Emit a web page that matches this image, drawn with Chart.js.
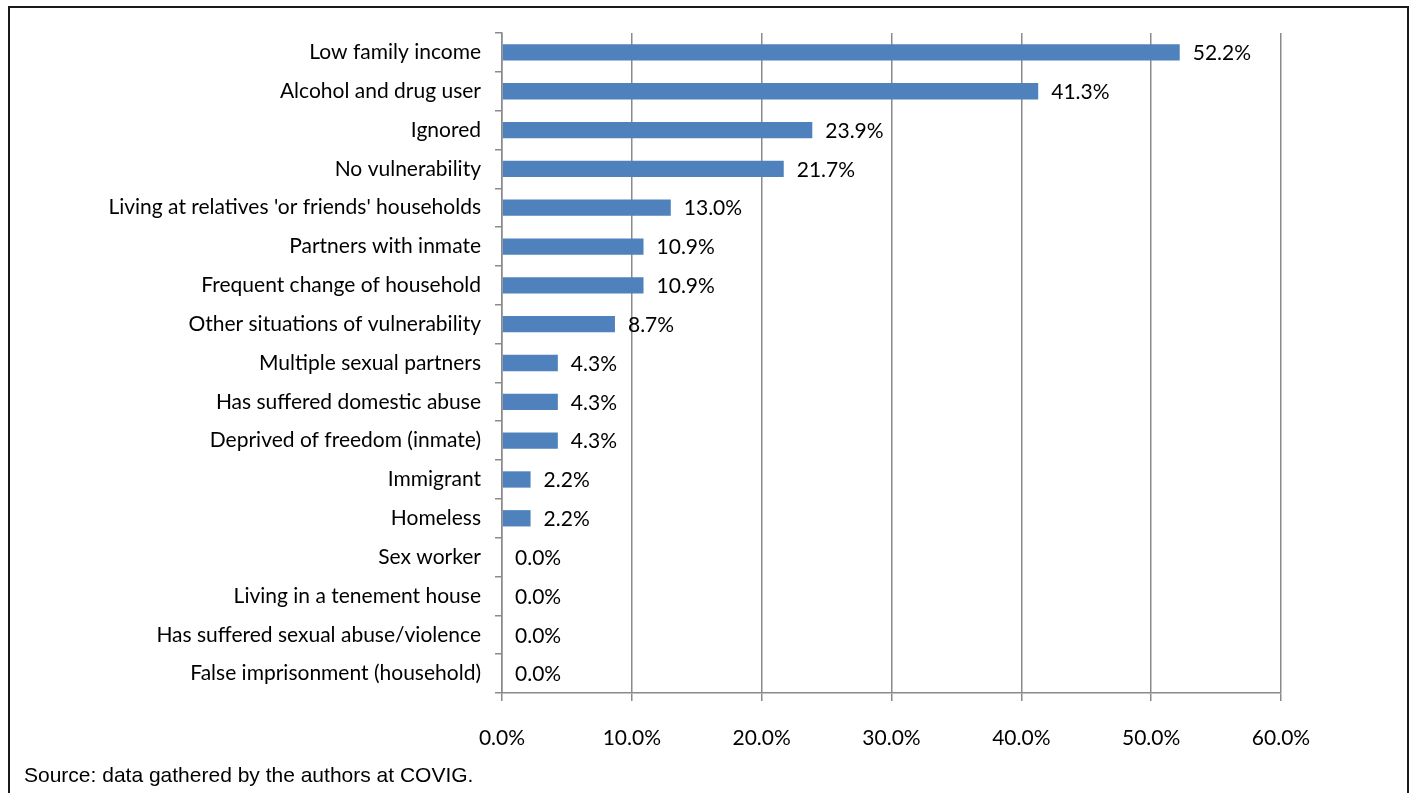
<!DOCTYPE html>
<html>
<head>
<meta charset="utf-8">
<script src="https://cdn.jsdelivr.net/npm/chart.js@4"></script>
<style>
  html, body { margin: 0; padding: 0; background: #fff; overflow: hidden; }
  #wrap { position: relative; width: 1418px; height: 793px; }
  #frame { position: absolute; left: 8px; top: 6px; width: 1401px; height: 800px; border: 2px solid #1a1a1a; box-sizing: border-box; }
  #chart { position: absolute; left: 0; top: 0; }
  #source { position: absolute; left: 24px; top: 763px; font-family: "Liberation Sans", Arial, sans-serif; font-size: 21px; color: #000; white-space: nowrap; }
</style>
</head>
<body>
<div id="wrap">
  <div id="frame"></div>
  <canvas id="chart" width="1418" height="793"></canvas>
  <div id="source">Source: data gathered by the authors at COVIG.</div>
</div>
<script>
const categories = [
  "Low family income",
  "Alcohol and drug user",
  "Ignored",
  "No vulnerability",
  "Living at relatives 'or friends' households",
  "Partners with inmate",
  "Frequent change of household",
  "Other situations of vulnerability",
  "Multiple sexual partners",
  "Has suffered domestic abuse",
  "Deprived of freedom (inmate)",
  "Immigrant",
  "Homeless",
  "Sex worker",
  "Living in a tenement house",
  "Has suffered sexual abuse/violence",
  "False imprisonment (household)"
];
const percentages = [52.2, 41.3, 23.9, 21.7, 13.0, 10.9, 10.9, 8.7, 4.3, 4.3, 4.3, 2.2, 2.2, 0.0, 0.0, 0.0, 0.0];
const xTicks = [0, 10, 20, 30, 40, 50, 60];

const FONT = "Lato, 'Open Sans', sans-serif";
const FONT_SIZE = 21;
const GRID = '#8a8a8a';

const valueLabels = {
  id: 'valueLabels',
  afterDatasetsDraw(chart) {
    const ctx = chart.ctx;
    const meta = chart.getDatasetMeta(0);
    ctx.save();
    ctx.font = FONT_SIZE + 'px ' + FONT;
    ctx.fillStyle = '#000';
    ctx.textAlign = 'left';
    ctx.textBaseline = 'middle';
    meta.data.forEach((bar, i) => {
      const v = chart.data.datasets[0].data[i];
      ctx.fillText(v.toFixed(1) + '%', bar.x + 13, bar.y + 1);
    });
    ctx.restore();
  }
};

new Chart(document.getElementById('chart'), {
  type: 'bar',
  data: {
    labels: categories,
    datasets: [{
      data: percentages,
      backgroundColor: '#4F81BD',
      borderWidth: 0,
      barPercentage: 0.42,
      categoryPercentage: 1.0
    }]
  },
  options: {
    indexAxis: 'y',
    responsive: false,
    animation: false,
    devicePixelRatio: 1,
    layout: { padding: { left: 20, right: 137, top: 33, bottom: 0 } },
    plugins: { legend: { display: false }, tooltip: { enabled: false } },
    scales: {
      x: {
        min: 0, max: 60,
        afterBuildTicks(axis) { axis.ticks = xTicks.map(v => ({ value: v })); },
        afterFit(axis) { axis.height = 100; },
        grid: { color: GRID, lineWidth: 1.5, tickLength: 8, drawTicks: true },
        border: { color: GRID, width: 1.5 },
        ticks: {
          color: '#000',
          font: { family: FONT, size: FONT_SIZE },
          padding: 25,
          maxRotation: 0,
          callback: v => Number(v).toFixed(1) + '%'
        }
      },
      y: {
        afterFit(axis) { axis.width = 482; },
        grid: { display: true, drawOnChartArea: false, drawTicks: true, tickLength: 7, color: GRID, lineWidth: 1.5, offset: true },
        border: { color: GRID, width: 1.5 },
        ticks: {
          color: '#000',
          font: { family: FONT, size: FONT_SIZE },
          padding: 14,
          autoSkip: false
        }
      }
    }
  },
  plugins: [valueLabels]
});
</script>
</body>
</html>
